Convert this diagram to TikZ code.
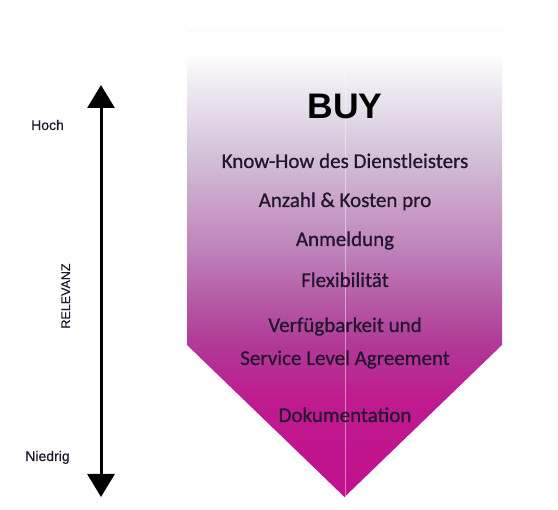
\documentclass[tikz,border=0pt]{standalone}
\usepackage{fontspec}
\setmainfont{Carlito}
\newfontfamily\itemfont[AutoFakeBold=0.7]{Carlito}
\newfontfamily\labelfont[AutoFakeBold=0.6]{Liberation Sans}
\newfontfamily\buyfont{Liberation Sans}
\usetikzlibrary{arrows.meta}
\definecolor{txt}{HTML}{22152E}
\definecolor{cA}{HTML}{C2108C}
\definecolor{cB}{HTML}{BF1A8F}
\definecolor{cC}{HTML}{B03C98}
\definecolor{cD}{HTML}{BE82B9}
\definecolor{cE}{HTML}{D5C5DB}
\definecolor{cF}{HTML}{EDE8F0}
\pgfdeclareverticalshading{buyshade}{100bp}{color(0bp)=(cA); color(25bp)=(cA); color(35.4bp)=(cB); color(41.8bp)=(cC); color(51.4bp)=(cD); color(62.2bp)=(cE); color(68.6bp)=(cF); color(72.5bp)=(white); color(100bp)=(white)}
\tikzset{
  item/.style={font=\itemfont\bfseries\fontsize{21}{21}\selectfont, text=txt, inner sep=0pt, anchor=base},
  side/.style={font=\labelfont\bfseries\fontsize{14}{14}\selectfont, text=txt, inner sep=0pt, anchor=base},
  bigarrow/.style={line width=3pt, {Triangle[width=27pt,length=23pt]}-{Triangle[width=27pt,length=23pt]}}
}
\begin{document}
\begin{tikzpicture}[x=1pt,y=-1pt]
\useasboundingbox (0,0) rectangle (558,510);
% arrow shape
\path[shading=buyshade] (187,30) -- (502,30) -- (502,345) -- (344.5,497) -- (187,345) -- cycle;
\draw[line width=0.4pt, color=pink!15] (187,30) -- (502,30);
\draw[line width=0.8pt, white, opacity=0.45] (345,30) -- (345,496);
% texts
\node[inner sep=0pt, anchor=base, font=\buyfont\bfseries\fontsize{35.5}{35.5}\selectfont, text=black] (buy) at (345,119) {BUY};
\node[item] (t1) at (345,168) {Know-How des Dienstleisters};
\node[item] (t2) at (345,207) {Anzahl \& Kosten pro};
\node[item] (t3) at (345,246) {Anmeldung};
\node[item] (t4) at (345,287) {Flexibilität};
\node[item] (t5) at (345,332) {Verfügbarkeit und};
\node[item] (t6) at (345,365) {Service Level Agreement};
\node[item] (t7) at (345,422) {Dokumentation};
% relevance axis
\coordinate (atop) at (101,85);
\coordinate (abot) at (101,497);
\draw[bigarrow] (atop) -- (abot);
\node[side] (hoch) at (47.5,130) {Hoch};
\node[side] (nied) at (47.5,461) {Niedrig};
\node[side, font=\labelfont\bfseries\fontsize{12.5}{12.5}\selectfont, rotate=90] (rel) at (70,296) {RELEVANZ};
\end{tikzpicture}
\end{document}
